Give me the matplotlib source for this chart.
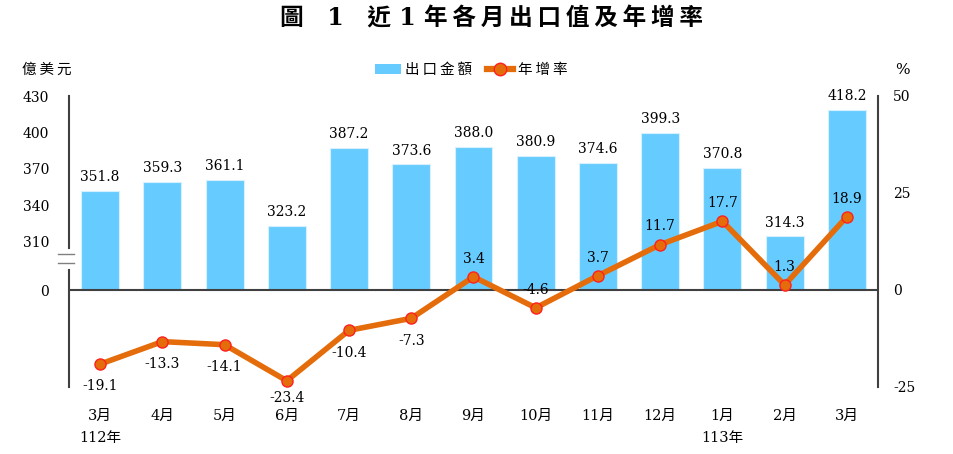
import numpy as np
import matplotlib
matplotlib.use("Agg")
import matplotlib.pyplot as plt
from matplotlib.patches import Patch
from matplotlib.lines import Line2D

plt.rcParams['font.family'] = ['DejaVu Serif', 'Noto Sans CJK TC', 'DejaVu Sans']

months = ['3月', '4月', '5月', '6月', '7月', '8月', '9月', '10月', '11月', '12月', '1月', '2月', '3月']
year_marks = {0: '112年', 10: '113年'}
exports = [351.8, 359.3, 361.1, 323.2, 387.2, 373.6, 388.0, 380.9, 374.6, 399.3, 370.8, 314.3, 418.2]
growth = [-19.1, -13.3, -14.1, -23.4, -10.4, -7.3, 3.4, -4.6, 3.7, 11.7, 17.7, 1.3, 18.9]
left_ticks = [0, 310, 340, 370, 400, 430]
right_ticks = [-25, 0, 25, 50]

bar_color = '#66CCFF'
line_color = '#E46C0A'
axis_color = '#404040'
TS = '\u2009'  # thin space, used as letter spacing for CJK text

# broken left axis: 0..310 squeezed, 310..430 stretched (units match the % axis)
BRK = 310.0
F_BRK = 12.45
SLOPE = (50 - F_BRK) / (430 - BRK)


def fwd(v):
    v = np.asarray(v, dtype=float)
    return np.where(v < BRK, v * F_BRK / BRK, F_BRK + (v - BRK) * SLOPE)


def inv(y):
    y = np.asarray(y, dtype=float)
    return np.where(y < F_BRK, y * BRK / F_BRK, BRK + (y - F_BRK) / SLOPE)


fig = plt.figure(figsize=(9.54, 4.54), dpi=100)
ax = fig.add_axes([69 / 954, 1 - 387 / 454, 809 / 954, 291 / 454])
ax.set_yscale('function', functions=(fwd, inv))
x = np.arange(len(months))

ax.bar(x, exports, width=0.61, color=bar_color, edgecolor='#D6F0FF', linewidth=0.8, zorder=2)
ax.set_xlim(-0.5, len(months) - 0.5)
ax.set_ylim(float(inv(-25)), 430)
ax.set_yticks(left_ticks)
ax.set_yticklabels([str(t) for t in left_ticks], fontsize=10)
ax.tick_params(axis='y', length=0, pad=14.4)
ax.axhline(0, color=axis_color, lw=1.5, zorder=3)

for xi, v in zip(x, exports):
    ax.annotate(f'{v:.1f}', (xi, v), xytext=(0, 5), textcoords='offset points',
                ha='center', va='bottom', fontsize=10)

labels = []
for i, m in enumerate(months):
    labels.append(m + ('\n' + year_marks[i] if i in year_marks else ''))
ax.set_xticks(x)
ax.set_xticklabels(labels, fontsize=10.5, linespacing=1.75, va='top')
ax.tick_params(axis='x', length=0, pad=16)

for s in ['top', 'bottom', 'left', 'right']:
    ax.spines[s].set_visible(False)

# left spine with a break
ax.plot([0, 0], [1, 0.478], transform=ax.transAxes, color=axis_color, lw=1.5, clip_on=False)
ax.plot([0, 0], [0.402, 0], transform=ax.transAxes, color=axis_color, lw=1.5, clip_on=False)
for yy in (0.457, 0.426):
    ax.plot([-0.0136, 0.006], [yy, yy], transform=ax.transAxes, color='#808080', lw=1.0, clip_on=False)

ax2 = ax.twinx()
ax2.set_ylim(-25, 50)
ax2.set_yticks(right_ticks)
ax2.set_yticklabels([str(t) for t in right_ticks], fontsize=10)
ax2.tick_params(axis='y', length=0, pad=11)
for s in ['top', 'bottom', 'left']:
    ax2.spines[s].set_visible(False)
ax2.spines['right'].set_color(axis_color)
ax2.spines['right'].set_linewidth(1.5)

ax2.plot(x, growth, color=line_color, lw=4, marker='o', markersize=8,
         markerfacecolor=line_color, markeredgecolor='#FF2020', markeredgewidth=1.0, zorder=4)

for i, (xi, g) in enumerate(zip(x, growth)):
    below = g < 0 and months[i] != '10月'
    off = -11 if below else 8
    if g < -20:
        off = -7
    ax2.annotate(f'{g:.1f}', (xi, g), xytext=(0, off), textcoords='offset points',
                 ha='center', va='top' if below else 'bottom', fontsize=10)

title = '圖　1　近 1 ' + TS.join('年各月出口值及年增率')
fig.text(492 / 954, 1 - 19 / 454, title, ha='center', va='center',
         fontsize=17, fontweight='bold')
fig.text(22 / 954, 1 - 70 / 454, TS.join('億美元'), ha='left', va='center', fontsize=10.5)
fig.text(902 / 954, 1 - 70 / 454, '%', ha='center', va='center', fontsize=11)

handles = [Patch(facecolor=bar_color, edgecolor='none'),
           Line2D([0], [0], color=line_color, lw=4.5, marker='o', markersize=9,
                  markerfacecolor=line_color, markeredgecolor='#FF2020')]
fig.legend(handles, [TS.join('出口金額'), TS.join('年增率')], loc='center',
           bbox_to_anchor=(471 / 954, 1 - 70 / 454),
           ncol=2, frameon=False, fontsize=10.5, handlelength=1.8, handletextpad=0.3,
           columnspacing=1.0)

fig.savefig('out.png', dpi=100)
